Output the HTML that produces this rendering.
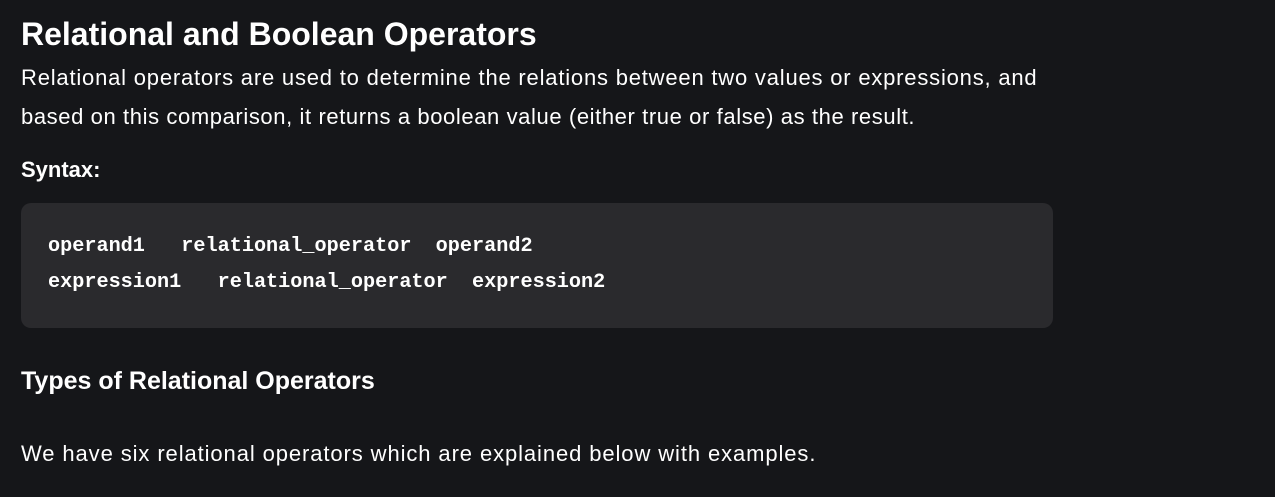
<!DOCTYPE html>
<html><head><style>
body{margin:0;background:#151619;width:1275px;height:497px;overflow:hidden;font-family:"Liberation Sans",sans-serif;color:#fff;position:relative}
div{position:absolute;white-space:nowrap}
.t{left:21px;top:14px;font-size:32px;font-weight:bold;line-height:40px}
.p{left:21px;font-size:22px;line-height:28px;letter-spacing:0.8px}
.code{left:21px;top:203px;width:1032px;height:125px;background:#2a2a2d;border-radius:10px}
.c{left:48px;font-family:"Liberation Mono",monospace;font-size:20.2px;font-weight:bold;line-height:28px;white-space:pre}
</style></head><body>
<div class="t">Relational and Boolean Operators</div>
<div class="p" style="top:64px">Relational operators are used to determine the relations between two values or expressions, and</div>
<div class="p" style="top:103px;letter-spacing:0.6px">based on this comparison, it returns a boolean value (either true or false) as the result.</div>
<div class="p" style="top:156px;font-weight:bold;letter-spacing:0">Syntax:</div>
<div class="code"></div>
<div class="c" style="top:233px">operand1   relational_operator  operand2</div>
<div class="c" style="top:269px">expression1   relational_operator  expression2</div>
<div class="p" style="top:367px;font-weight:bold;font-size:25px;letter-spacing:0">Types of Relational Operators</div>
<div class="p" style="top:440px;letter-spacing:0.9px">We have six relational operators which are explained below with examples.</div>
</body></html>
